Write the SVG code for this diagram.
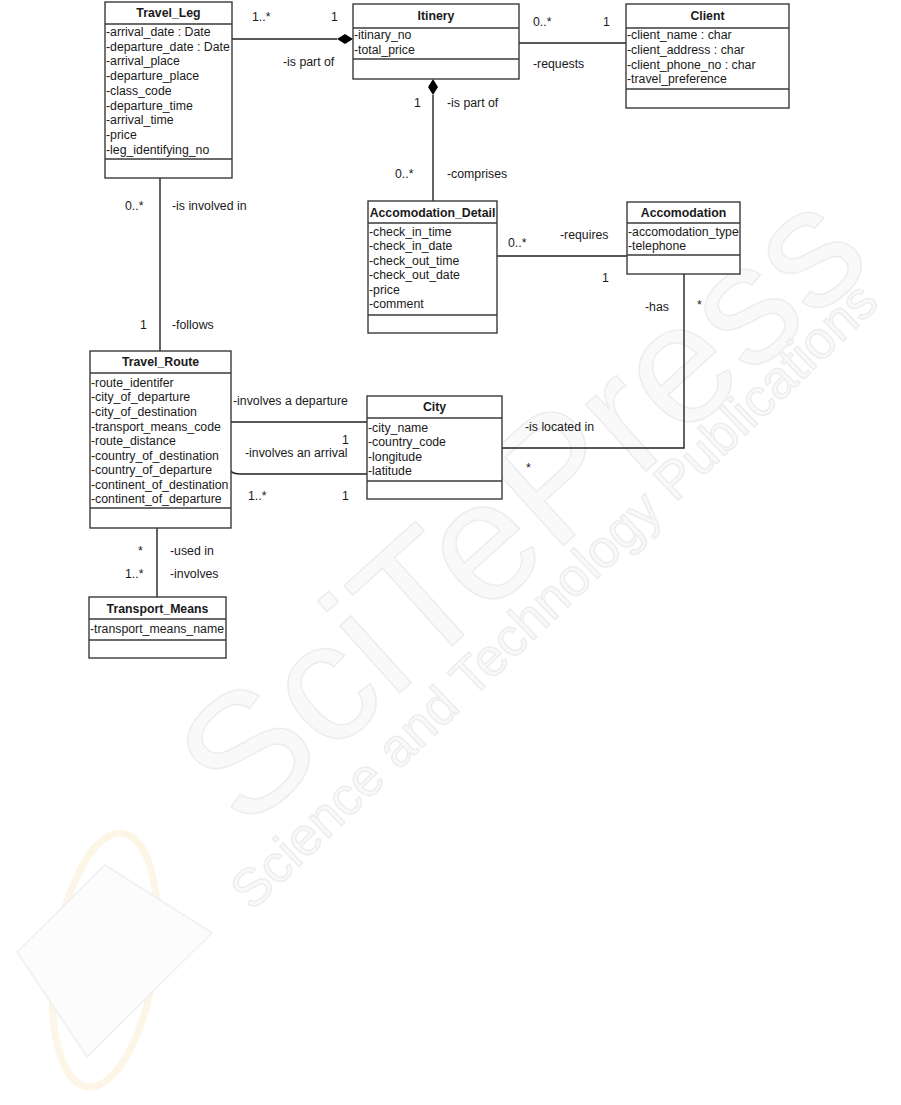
<svg xmlns="http://www.w3.org/2000/svg" width="901" height="1105" viewBox="0 0 901 1105">
<style>
.box{fill:#ffffff;stroke:#3a3a3a;stroke-width:1.4}
.sep{stroke:#3a3a3a;stroke-width:1.4}
.t{font-family:"Liberation Sans",Arial,sans-serif;font-size:12.3px;fill:#1a1a1a}
.b{font-weight:bold;text-anchor:middle}
.ln{stroke:#222222;stroke-width:1.4;fill:none}
.dia{fill:#000000;stroke:none}
.wm{font-family:"Liberation Sans",Arial,sans-serif;fill:#f9f9f9;stroke:#ededed;stroke-width:1.5}
</style>
<rect x="0" y="0" width="901" height="1105" fill="#ffffff"/>
<g id="watermark">
  <ellipse cx="105" cy="960" rx="50" ry="128" transform="rotate(8 105 960)" fill="none" stroke="#fdf5e6" stroke-width="7"/>
  <polygon points="105,865 212,933 87,1057 17,952" fill="#fcfcfc" stroke="#f0f0f0" stroke-width="1.5"/>
  <text class="wm" x="0" y="0" font-size="170" transform="translate(244,833) rotate(-42)">SciTePress</text>
  <text class="wm" x="0" y="0" font-size="53" stroke-width="0.8" transform="translate(252,912) rotate(-44)">Science and Technology Publications</text>
</g>
<g id="connectors">
  <line class="ln" x1="232" y1="39" x2="337" y2="39"/>
  <polygon class="dia" points="337,39 345,34 353,39 345,44"/>
  <line class="ln" x1="519" y1="43" x2="626" y2="43"/>
  <polygon class="dia" points="433,79 438,87 433,95 428,87"/>
  <line class="ln" x1="433" y1="95" x2="433" y2="201"/>
  <line class="ln" x1="497" y1="256" x2="627" y2="256"/>
  <polyline class="ln" points="684,274 684,448 502,448"/>
  <line class="ln" x1="160" y1="178" x2="160" y2="351"/>
  <line class="ln" x1="231" y1="422" x2="367" y2="422"/>
  <path class="ln" d="M231,471 Q233,474 241,474 L367,474"/>
  <line class="ln" x1="157" y1="528" x2="157" y2="597"/>
</g>
<g id="labels">
  <text class="t" x="252" y="21">1..*</text>
  <text class="t" x="331" y="21">1</text>
  <text class="t" x="283" y="65.5">-is part of</text>
  <text class="t" x="533" y="26">0..*</text>
  <text class="t" x="603" y="26">1</text>
  <text class="t" x="533" y="67.5">-requests</text>
  <text class="t" x="414" y="106.5">1</text>
  <text class="t" x="447" y="106.5">-is part of</text>
  <text class="t" x="395" y="177.5">0..*</text>
  <text class="t" x="447" y="177.5">-comprises</text>
  <text class="t" x="508" y="246.5">0..*</text>
  <text class="t" x="560" y="238.5">-requires</text>
  <text class="t" x="602" y="281.5">1</text>
  <text class="t" x="645" y="310.5">-has</text>
  <text class="t" x="697" y="309">*</text>
  <text class="t" x="125" y="209.5">0..*</text>
  <text class="t" x="172" y="209.5">-is involved in</text>
  <text class="t" x="140" y="328.5">1</text>
  <text class="t" x="172" y="328.5">-follows</text>
  <text class="t" x="233" y="404.5">-involves a departure</text>
  <text class="t" x="211" y="421">*</text>
  <text class="t" x="342" y="444">1</text>
  <text class="t" x="245" y="457">-involves an arrival</text>
  <text class="t" x="248" y="499.5">1..*</text>
  <text class="t" x="342" y="499.5">1</text>
  <text class="t" x="525" y="430.5">-is located in</text>
  <text class="t" x="526" y="472">*</text>
  <text class="t" x="138" y="554.5">*</text>
  <text class="t" x="170" y="554.5">-used in</text>
  <text class="t" x="125" y="577.5">1..*</text>
  <text class="t" x="170" y="577.5">-involves</text>
</g>
<g id="Travel_Leg">
  <rect class="box" x="105" y="2" width="127" height="176"/>
  <line class="sep" x1="105" y1="24" x2="232" y2="24"/>
  <line class="sep" x1="105" y1="159" x2="232" y2="159"/>
  <text class="t b" x="168.5" y="17">Travel_Leg</text>
  <text class="t" x="106" y="36">-arrival_date : Date</text>
  <text class="t" x="106" y="50.7">-departure_date : Date</text>
  <text class="t" x="106" y="65.4">-arrival_place</text>
  <text class="t" x="106" y="80.1">-departure_place</text>
  <text class="t" x="106" y="94.8">-class_code</text>
  <text class="t" x="106" y="109.5">-departure_time</text>
  <text class="t" x="106" y="124.2">-arrival_time</text>
  <text class="t" x="106" y="138.9">-price</text>
  <text class="t" x="106" y="153.6">-leg_identifying_no</text>
</g>
<g id="Itinery">
  <rect class="box" x="353" y="4" width="166" height="75"/>
  <line class="sep" x1="353" y1="28" x2="519" y2="28"/>
  <line class="sep" x1="353" y1="59" x2="519" y2="59"/>
  <text class="t b" x="436" y="20">Itinery</text>
  <text class="t" x="354" y="38.5">-itinary_no</text>
  <text class="t" x="354" y="54">-total_price</text>
</g>
<g id="Client">
  <rect class="box" x="626" y="4" width="163" height="104"/>
  <line class="sep" x1="626" y1="28" x2="789" y2="28"/>
  <line class="sep" x1="626" y1="89" x2="789" y2="89"/>
  <text class="t b" x="707.5" y="20">Client</text>
  <text class="t" x="627" y="38.5">-client_name : char</text>
  <text class="t" x="627" y="53.5">-client_address : char</text>
  <text class="t" x="627" y="68.5">-client_phone_no : char</text>
  <text class="t" x="627" y="83">-travel_preference</text>
</g>
<g id="Accomodation_Detail">
  <rect class="box" x="368" y="201" width="129" height="132"/>
  <line class="sep" x1="368" y1="223" x2="497" y2="223"/>
  <line class="sep" x1="368" y1="315" x2="497" y2="315"/>
  <text class="t b" x="432.5" y="216.5">Accomodation_Detail</text>
  <text class="t" x="369" y="235.5">-check_in_time</text>
  <text class="t" x="369" y="250">-check_in_date</text>
  <text class="t" x="369" y="264.5">-check_out_time</text>
  <text class="t" x="369" y="279">-check_out_date</text>
  <text class="t" x="369" y="293.5">-price</text>
  <text class="t" x="369" y="308">-comment</text>
</g>
<g id="Accomodation">
  <rect class="box" x="627" y="202" width="113" height="72"/>
  <line class="sep" x1="627" y1="223" x2="740" y2="223"/>
  <line class="sep" x1="627" y1="255" x2="740" y2="255"/>
  <text class="t b" x="683.5" y="216.5">Accomodation</text>
  <text class="t" x="628" y="235.5">-accomodation_type</text>
  <text class="t" x="628" y="250">-telephone</text>
</g>
<g id="Travel_Route">
  <rect class="box" x="90" y="351" width="141" height="177"/>
  <line class="sep" x1="90" y1="373" x2="231" y2="373"/>
  <line class="sep" x1="90" y1="508" x2="231" y2="508"/>
  <text class="t b" x="160.5" y="366">Travel_Route</text>
  <text class="t" x="91" y="386.5">-route_identifer</text>
  <text class="t" x="91" y="401">-city_of_departure</text>
  <text class="t" x="91" y="415.5">-city_of_destination</text>
  <text class="t" x="91" y="430.5">-transport_means_code</text>
  <text class="t" x="91" y="445">-route_distance</text>
  <text class="t" x="91" y="459.5">-country_of_destination</text>
  <text class="t" x="91" y="474">-country_of_departure</text>
  <text class="t" x="91" y="488.5">-continent_of_destination</text>
  <text class="t" x="91" y="503">-continent_of_departure</text>
</g>
<g id="City">
  <rect class="box" x="367" y="396" width="135" height="103"/>
  <line class="sep" x1="367" y1="418" x2="502" y2="418"/>
  <line class="sep" x1="367" y1="481" x2="502" y2="481"/>
  <text class="t b" x="434.5" y="411">City</text>
  <text class="t" x="368" y="431.5">-city_name</text>
  <text class="t" x="368" y="446">-country_code</text>
  <text class="t" x="368" y="460.5">-longitude</text>
  <text class="t" x="368" y="475">-latitude</text>
</g>
<g id="Transport_Means">
  <rect class="box" x="89" y="597" width="137" height="61"/>
  <line class="sep" x1="89" y1="619" x2="226" y2="619"/>
  <line class="sep" x1="89" y1="640" x2="226" y2="640"/>
  <text class="t b" x="157.5" y="612.5">Transport_Means</text>
  <text class="t" x="90" y="632.5">-transport_means_name</text>
</g>
</svg>
